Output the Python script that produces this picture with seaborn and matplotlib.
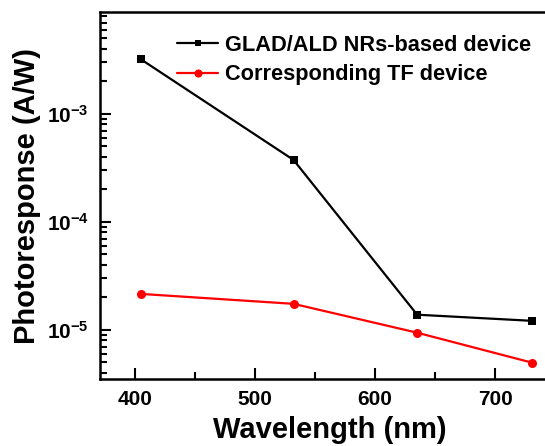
import matplotlib
matplotlib.use("Agg")
import matplotlib.pyplot as plt
import seaborn as sns
import pandas as pd
import numpy as np
from matplotlib.ticker import LogLocator, MultipleLocator, FuncFormatter, NullFormatter

sns.set_style("ticks")
plt.rcParams['font.family'] = ['Liberation Sans', 'DejaVu Sans']
plt.rcParams['font.weight'] = 'bold'
plt.rcParams['mathtext.fontset'] = 'custom'
plt.rcParams['mathtext.rm'] = 'Liberation Sans:bold'
plt.rcParams['mathtext.bf'] = 'Liberation Sans:bold'
plt.rcParams['mathtext.it'] = 'Liberation Sans:bold'
for k in ['text.color', 'axes.labelcolor', 'xtick.color', 'ytick.color', 'axes.edgecolor']:
    plt.rcParams[k] = 'black'

wavelength = [405, 532, 635, 731]
glad_ald = [3.2e-3, 3.75e-4, 1.38e-5, 1.21e-5]
thin_film = [2.15e-5, 1.74e-5, 9.4e-6, 4.95e-6]
series_names = ["GLAD/ALD NRs-based device", "Corresponding TF device"]

df = pd.DataFrame({
    "Wavelength": wavelength * 2,
    "Photoresponse": glad_ald + thin_film,
    "Device": [series_names[0]] * 4 + [series_names[1]] * 4,
})

fig = plt.figure(figsize=(5.45, 4.46), dpi=100)
ax = fig.add_axes([100/545, (446-379)/446, (560-100)/545, (379-12)/446])

sns.lineplot(data=df, x="Wavelength", y="Photoresponse", hue="Device", style="Device",
             palette={series_names[0]: "black", series_names[1]: "red"},
             markers={series_names[0]: "s", series_names[1]: "o"},
             dashes=False, linewidth=1.6, ax=ax)
for line in ax.lines:
    if line.get_marker() == "s":
        line.set_markersize(5.5)
    else:
        line.set_markersize(6.5)
    line.set_markeredgewidth(0)

ax.set_yscale("log")
ax.set_xlim(370.8, 754)
ax.set_ylim(3.5e-6, 8.8e-3)

ax.xaxis.set_major_locator(MultipleLocator(100))
ax.xaxis.set_minor_locator(MultipleLocator(50))
ax.yaxis.set_major_locator(LogLocator(base=10, numticks=10))
ax.yaxis.set_minor_locator(LogLocator(base=10, subs=np.arange(2, 10), numticks=20))
ax.yaxis.set_minor_formatter(NullFormatter())
ax.yaxis.set_major_formatter(FuncFormatter(lambda v, p: r"$10^{%d}$" % int(round(np.log10(v)))))

ax.tick_params(which="major", direction="in", length=8, width=1.5, labelsize=15, pad=8)
ax.tick_params(which="minor", direction="in", length=5, width=1.5)
ax.tick_params(axis="y", which="both", right=False)
ax.tick_params(axis="x", which="both", top=False)
for lab in ax.get_xticklabels() + ax.get_yticklabels():
    lab.set_fontweight("bold")

for s in ["left", "bottom", "top"]:
    ax.spines[s].set_linewidth(1.8)
    ax.spines[s].set_color("black")
ax.spines["right"].set_visible(False)

ax.set_xlabel("Wavelength (nm)", fontsize=21, fontweight="bold", labelpad=5)
ax.set_ylabel("Photoresponse (A/W)", fontsize=21, fontweight="bold", labelpad=4)

handles, labels = ax.get_legend_handles_labels()
leg = ax.legend(handles, labels, loc="upper left", bbox_to_anchor=(0.148, 0.962), frameon=False,
                fontsize=15.7, handlelength=1.9, handletextpad=0.3, labelspacing=0.4,
                borderaxespad=0, markerscale=0.9)
for t in leg.get_texts():
    t.set_fontweight("bold")

fig.savefig("out.png", dpi=100, facecolor="white")
